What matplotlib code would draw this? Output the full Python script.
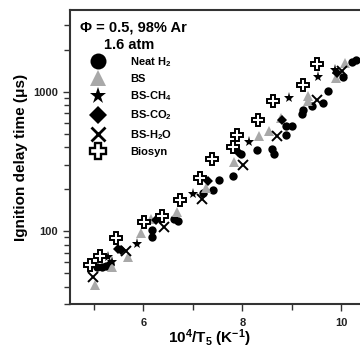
import matplotlib
matplotlib.use("Agg")
import matplotlib.pyplot as plt
from matplotlib.lines import Line2D

plt.rcParams["font.family"] = ["Liberation Sans", "DejaVu Sans"]
plt.rcParams["font.weight"] = "bold"
plt.rcParams["mathtext.fontset"] = "custom"
plt.rcParams["mathtext.rm"] = "Liberation Sans:bold"
plt.rcParams["mathtext.it"] = "Liberation Sans:bold"
plt.rcParams["mathtext.bf"] = "Liberation Sans:bold"
plt.rcParams["mathtext.default"] = "rm"

# values (x = 10^4/T5 in 1/K, y = ignition delay in us)
neat_h2_x = [5.06, 5.16, 5.24, 5.32, 6.17, 6.17, 6.62, 6.70, 7.20, 7.40, 7.53, 7.81,
             7.97, 8.29, 8.60, 8.64, 8.88, 9.00, 8.88, 9.20, 9.22, 9.40, 9.63, 9.73,
             10.03, 10.21, 10.29]
neat_h2_y = [55.3, 55.3, 56.2, 58.1, 101.6, 90.6, 121.8, 117.9, 186.8, 196.3, 231, 247,
             355, 379, 385, 355, 571, 571, 485, 696, 744, 794, 835, 1017,
             1280, 1638, 1692]

bs_x = [5.02, 5.36, 5.69, 5.95, 6.15, 6.68, 7.26, 7.83, 8.33, 8.54, 8.78, 9.32, 9.32,
        9.89, 10.07]
bs_y = [41.1, 55.3, 65.2, 96.8, 121.8, 136.7, 203, 311, 477, 526, 652, 936, 862,
        1259, 1611]

bs_ch4_x = [5.28, 5.36, 5.87, 7.00, 8.13, 8.94, 9.53, 9.87]
bs_ch4_y = [65.2, 60.1, 80.8, 184, 432, 906, 1280, 1436]

bs_co2_x = [5.48, 5.55, 6.25, 7.30, 7.91, 8.80, 9.91]
bs_co2_y = [74.4, 73.2, 119.8, 227.6, 367, 621, 1368]

bs_h2o_x = [4.98, 5.65, 6.41, 7.18, 8.01, 8.70, 9.51, 10.01]
bs_h2o_y = [46.9, 72.0, 106.8, 169, 296, 477, 877, 1413]

biosyn_x = [4.92, 5.12, 5.44, 6.01, 6.37, 6.74, 7.14, 7.38, 7.81, 7.89, 8.31, 8.62,
            9.22, 9.51]
biosyn_y = [57.2, 66.3, 89.1, 116, 128, 166, 239, 327, 398, 485, 631, 862,
            1122, 1585]

GRAY = "#a9a9a9"
SERIES = [
    ("Neat H$_2$", neat_h2_x, neat_h2_y,
     dict(marker="o", color="black", ms=6, mew=0), dict(ms=11.5)),
    ("BS", bs_x, bs_y,
     dict(marker="^", color=GRAY, ms=6.5, mew=0), dict(ms=11.5)),
    ("BS-CH$_4$", bs_ch4_x, bs_ch4_y,
     dict(marker="*", color="black", ms=8, mew=0), dict(ms=12.5)),
    ("BS-CO$_2$", bs_co2_x, bs_co2_y,
     dict(marker="D", color="black", ms=4.8, mew=0), dict(ms=9.5)),
    ("BS-H$_2$O", bs_h2o_x, bs_h2o_y,
     dict(marker="x", color="black", ms=6.5, mew=1.4), dict(ms=10.5, mew=2)),
    ("Biosyn", biosyn_x, biosyn_y,
     dict(marker="P", mfc="white", mec="black", color="black", ms=8, mew=1.4),
     dict(ms=11.5, mew=1.7)),
]

fig = plt.figure(figsize=(3.6, 3.49), dpi=100)
ax = fig.add_axes([70 / 360, 45 / 349, 321 / 360, 294 / 349])

handles = []
for label, xs, ys, style, leg_style in SERIES:
    ax.plot(xs, ys, ls="none", **style)
    hs = dict(style)
    hs.update(leg_style)
    handles.append(Line2D([], [], ls="none", label=label, **hs))

ax.set_yscale("log")
ax.set_xlim(4.52, 11.0)
ax.set_ylim(30, 3850)
ax.set_xticks([6, 8, 10])
ax.set_xticks([5, 7, 9], minor=True)
ax.set_yticks([100, 1000])
ax.set_yticklabels(["100", "1000"])
ax.tick_params(axis="both", which="both", direction="out", width=1.0,
               color="#333333", labelsize=8, labelcolor="#222222")
ax.tick_params(axis="both", which="major", length=5)
ax.tick_params(axis="both", which="minor", length=4)
ax.tick_params(axis="x", which="major", pad=5)
for side in ["top", "bottom", "left", "right"]:
    ax.spines[side].set_linewidth(1.5)
    ax.spines[side].set_color("#333333")

ax.set_xlabel("10$^4$/T$_5$ (K$^{-1}$)", fontsize=11, fontweight="bold")
ax.set_ylabel("Ignition delay time (\u03bcs)", fontsize=11, fontweight="bold")
ax.xaxis.set_label_coords(0.433, -0.078)
ax.yaxis.set_label_coords(-0.13, 0.5)

fig.text(80 / 360, 1 - 28 / 349, "\u03a6 = 0.5, 98% Ar", fontsize=10.5,
         fontweight="bold", va="center", ha="left")
fig.text(129 / 360, 1 - 45 / 349, "1.6 atm", fontsize=10.5, fontweight="bold",
         va="center", ha="center")

ax.legend(handles=handles, loc="upper left", frameon=False,
          bbox_to_anchor=(90 / 360, 1 - 55 / 349), bbox_transform=fig.transFigure,
          borderaxespad=0, borderpad=0, handlelength=1.5,
          handletextpad=2.1, labelspacing=0.48, prop={"weight": "bold", "size": 8})

fig.savefig("out.png", dpi=100)
